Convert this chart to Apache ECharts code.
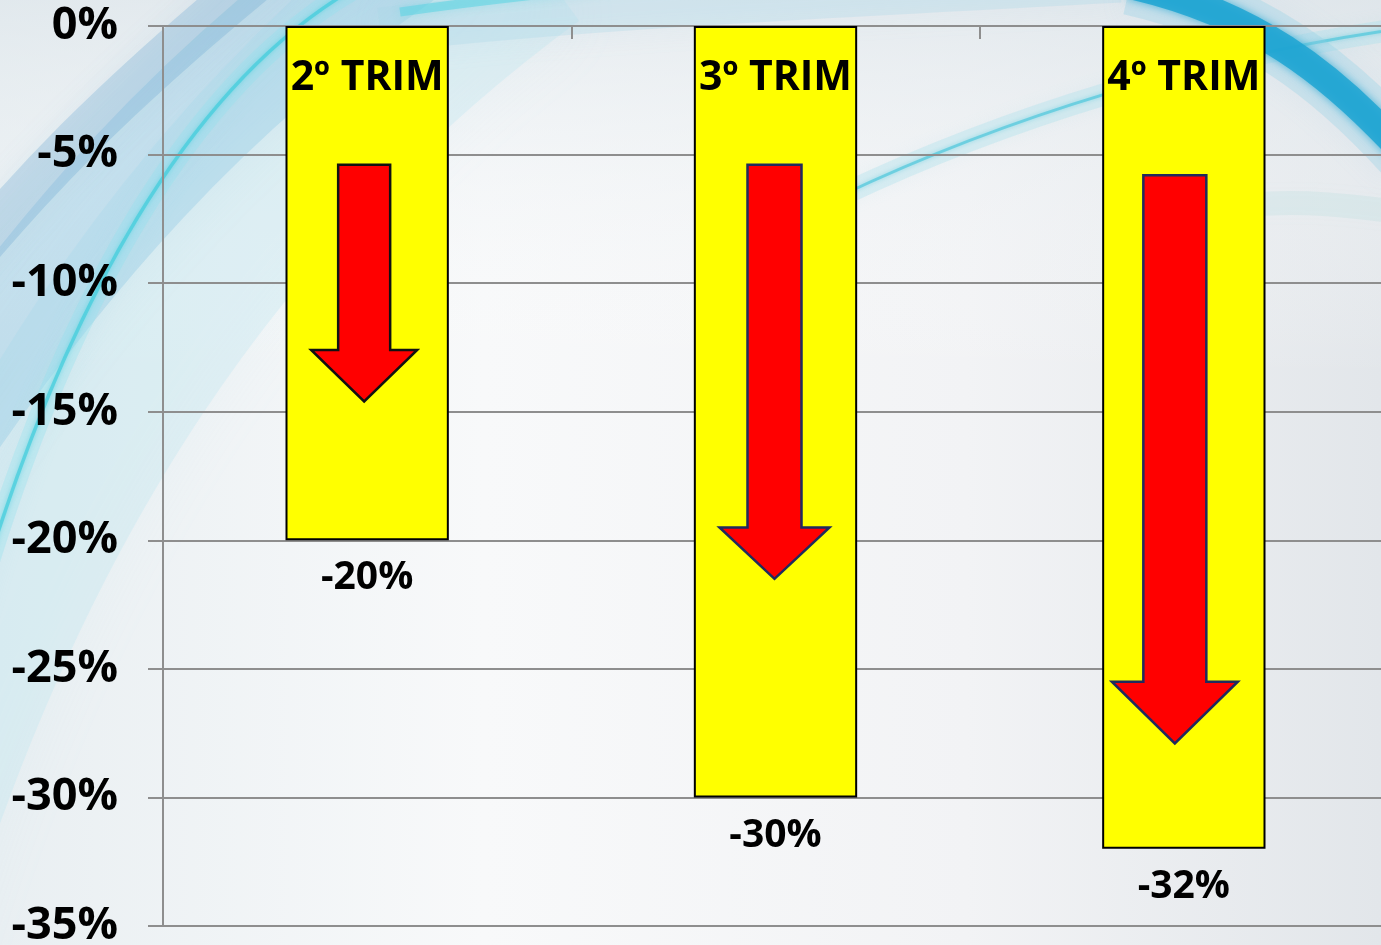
<!DOCTYPE html>
<html>
<head>
<meta charset="utf-8">
<script src="https://cdn.jsdelivr.net/npm/echarts@6/dist/echarts.min.js"></script>
<style>
html,body{margin:0;padding:0;}
#chart{width:1381px;height:945px;}
</style>
</head>
<body>
<div id="chart"></div>
<script>
// ---- data ----
const categories = ['2º TRIM', '3º TRIM', '4º TRIM'];
const values = [-20, -30, -32];
const valueLabels = ['-20%', '-30%', '-32%'];
// decorative arrows: start (top), head base, tip (in % units)
const arrowTop = [-5.4, -5.4, -5.8];
const arrowHeadBase = [-12.6, -19.5, -25.5];
const arrowTip = [-14.6, -21.5, -27.9];
const yMin = -35, yMax = 0, yStep = 5;

// ---- styles ----
const FONT = '"Open Sans", "DejaVu Sans", sans-serif';
const GRID_GRAY = '#8e8e8e';
const arrowShaftW = [52, 54, 63];
const arrowHeadW = [106, 110, 126];
const arrowDx = [-3, -1, -9];
const arrowStroke = ['#111111', '#1f2a5e', '#1f2a5e'];

const chart = echarts.init(document.getElementById('chart'), null, {renderer: 'canvas'});

function curve(p, width, color, blur) {
  return {
    type: 'bezierCurve', silent: true, z: -5,
    shape: {x1: p[0], y1: p[1], cpx1: p[2], cpy1: p[3], cpx2: p[4], cpy2: p[5], x2: p[6], y2: p[7]},
    style: {stroke: color, lineWidth: width, fill: null, shadowBlur: blur || 0, shadowColor: color, lineCap: 'butt'}
  };
}

const bg = [
  {type: 'rect', silent: true, z: -10, shape: {x: 0, y: 0, width: 1381, height: 945},
    style: {fill: new echarts.graphic.LinearGradient(0, 0, 1, 0, [
      {offset: 0, color: '#e9eff2'}, {offset: 0.35, color: '#f8f9fa'},
      {offset: 0.7, color: '#f2f3f5'}, {offset: 1, color: '#e2e6ea'}])}},
  {type: 'rect', silent: true, z: -9, shape: {x: 0, y: 0, width: 1381, height: 945},
    style: {fill: new echarts.graphic.LinearGradient(0, 0, 0, 1, [
      {offset: 0, color: 'rgba(222,230,235,0.7)'}, {offset: 0.4, color: 'rgba(255,255,255,0)'},
      {offset: 1, color: 'rgba(255,255,255,0)'}])}},
  // broad hazy band left
  curve([-160, 1000, -20, 480, 220, 160, 520, -60], 200, 'rgba(185,228,240,0.30)', 60),
  curve([-120, 520, 50, 250, 220, 70, 430, -70], 120, 'rgba(135,195,228,0.32)', 50),
  curve([-80, 320, 20, 190, 120, 90, 280, -40], 45, 'rgba(100,165,210,0.28)', 30),
  // bright cyan streak left
  curve([-40, 660, 60, 290, 200, 75, 360, -15], 22, 'rgba(140,225,238,0.30)', 20),
  curve([-40, 660, 60, 290, 200, 75, 360, -15], 3.5, 'rgba(70,205,220,0.75)', 5),
  // top haze
  curve([380, 30, 600, 5, 850, -5, 1120, -20], 45, 'rgba(170,215,232,0.30)', 30),
  curve([400, 12, 470, 2, 540, -6, 620, -14], 9, 'rgba(90,212,226,0.55)', 10),
  // right thin arc
  curve([840, 196, 1000, 120, 1200, 55, 1420, 26], 22, 'rgba(160,222,236,0.30)', 15),
  curve([840, 196, 1000, 120, 1200, 55, 1420, 26], 3, 'rgba(80,200,220,0.7)', 4),
  // right teal band
  curve([1130, -15, 1250, 12, 1330, 70, 1410, 160], 60, 'rgba(140,205,230,0.30)', 30),
  curve([1130, -15, 1250, 12, 1330, 70, 1410, 160], 28, 'rgba(30,165,210,0.85)', 8),
  curve([1250, 205, 1300, 200, 1350, 205, 1420, 215], 24, 'rgba(150,215,215,0.15)', 20)
];

const option = {
  backgroundColor: '#f3f4f6',
  animation: false,
  graphic: bg,
  grid: {left: 163, right: -7, top: 26, bottom: 19, containLabel: false, outerBoundsMode: 'none'},
  xAxis: {
    type: 'category',
    data: categories,
    position: 'top',
    axisLine: {show: true, onZero: false, lineStyle: {color: GRID_GRAY, width: 2}},
    axisTick: {show: true, inside: true, length: 13, lineStyle: {color: GRID_GRAY, width: 2}},
    axisLabel: {show: false},
    splitLine: {show: false}
  },
  yAxis: {
    type: 'value',
    min: yMin, max: yMax, interval: yStep,
    axisLine: {show: true, lineStyle: {color: GRID_GRAY, width: 2}},
    axisTick: {show: true, length: 15, lineStyle: {color: GRID_GRAY, width: 2}},
    splitLine: {show: true, lineStyle: {color: GRID_GRAY, width: 2}},
    axisLabel: {
      formatter: v => v + '%',
      margin: 45,
      color: '#000',
      fontSize: 45,
      fontWeight: 'bold',
      fontFamily: FONT
    }
  },
  series: [
    {
      type: 'bar',
      data: values,
      barWidth: '40%',
      itemStyle: {color: '#ffff00', borderColor: '#000', borderWidth: 2},
      z: 3
    },
    {
      type: 'custom',
      z: 5,
      data: categories.map((c, i) => [i, arrowTop[i], arrowHeadBase[i], arrowTip[i]]),
      encode: {x: 0, y: [1, 2, 3]},
      renderItem: function (params, api) {
        const i = params.dataIndex;
        const cx = api.coord([api.value(0), 0])[0] + arrowDx[i];
        const yTop = api.coord([api.value(0), api.value(1)])[1];
        const yHead = api.coord([api.value(0), api.value(2)])[1];
        const yTip = api.coord([api.value(0), api.value(3)])[1];
        const s = arrowShaftW[i] / 2, h = arrowHeadW[i] / 2;
        return {
          type: 'polygon',
          shape: {points: [
            [cx - s, yTop], [cx + s, yTop], [cx + s, yHead], [cx + h, yHead],
            [cx, yTip], [cx - h, yHead], [cx - s, yHead]
          ]},
          style: {fill: '#ff0000', stroke: arrowStroke[i], lineWidth: 2.5, lineJoin: 'miter'}
        };
      }
    },
    {
      type: 'custom',
      z: 6,
      data: categories.map((c, i) => [i, values[i]]),
      encode: {x: 0, y: 1},
      renderItem: function (params, api) {
        const i = params.dataIndex;
        const top = api.coord([api.value(0), 0]);
        const end = api.coord([api.value(0), api.value(1)]);
        return {
          type: 'group',
          children: [
            {type: 'text', style: {text: categories[i], x: top[0], y: top[1] + 52,
              align: 'center', verticalAlign: 'middle', fill: '#000',
              fontSize: 41, fontWeight: 'bold', fontFamily: FONT}},
            {type: 'text', style: {text: valueLabels[i], x: end[0], y: end[1] + 38,
              align: 'center', verticalAlign: 'middle', fill: '#000',
              fontSize: 39, fontWeight: 'bold', fontFamily: FONT}}
          ]
        };
      }
    }
  ]
};
chart.setOption(option);
</script>
</body>
</html>
